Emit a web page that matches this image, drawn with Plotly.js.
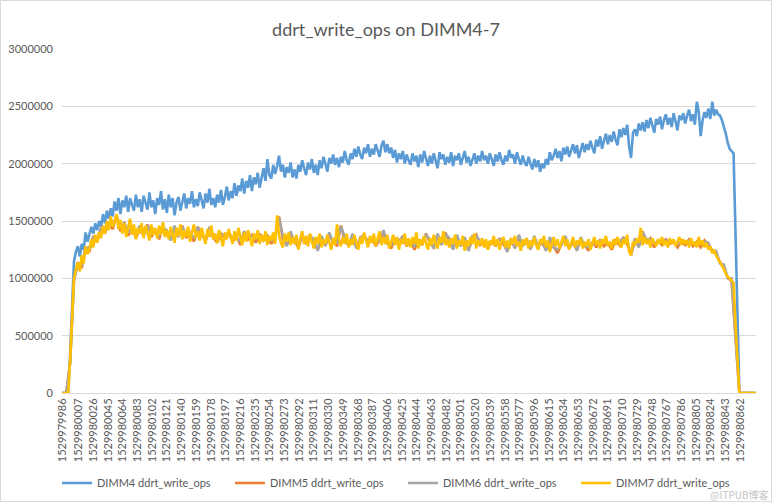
<!DOCTYPE html>
<html>
<head>
<meta charset="utf-8">
<script src="https://cdn.plot.ly/plotly-3.0.1.min.js"></script>
<style>html,body{margin:0;padding:0;background:#fff;}#chart{width:772px;height:502px;}</style>
</head>
<body>
<div id="chart"></div>
<script>
// time base (first timestamp); sample offsets in seconds from it
var BASE = 1529979986;

// fine sampling (2.5 s) used for DIMM4 and DIMM7
var offsetsFine = [0,2.5,5,7.5,10,12.5,15,17.5,20,22.5,
25,27.5,30,32.5,35,37.5,40,42.5,45,47.5,
50,52.5,55,57.5,60,62.5,65,67.5,70,72.5,
75,77.5,80,82.5,85,87.5,90,92.5,95,97.5,
100,102.5,105,107.5,110,112.5,115,117.5,120,122.5,
125,127.5,130,132.5,135,137.5,140,142.5,145,147.5,
150,152.5,155,157.5,160,162.5,165,167.5,170,172.5,
175,177.5,180,182.5,185,187.5,190,192.5,195,197.5,
200,202.5,205,207.5,210,212.5,215,217.5,220,222.5,
225,227.5,230,232.5,235,237.5,240,242.5,245,247.5,
250,252.5,255,257.5,260,262.5,265,267.5,270,272.5,
275,277.5,280,282.5,285,287.5,290,292.5,295,297.5,
300,302.5,305,307.5,310,312.5,315,317.5,320,322.5,
325,327.5,330,332.5,335,337.5,340,342.5,345,347.5,
350,352.5,355,357.5,360,362.5,365,367.5,370,372.5,
375,377.5,380,382.5,385,387.5,390,392.5,395,397.5,
400,402.5,405,407.5,410,412.5,415,417.5,420,422.5,
425,427.5,430,432.5,435,437.5,440,442.5,445,447.5,
450,452.5,455,457.5,460,462.5,465,467.5,470,472.5,
475,477.5,480,482.5,485,487.5,490,492.5,495,497.5,
500,502.5,505,507.5,510,512.5,515,517.5,520,522.5,
525,527.5,530,532.5,535,537.5,540,542.5,545,547.5,
550,552.5,555,557.5,560,562.5,565,567.5,570,572.5,
575,577.5,580,582.5,585,587.5,590,592.5,595,597.5,
600,602.5,605,607.5,610,612.5,615,617.5,620,622.5,
625,627.5,630,632.5,635,637.5,640,642.5,645,647.5,
650,652.5,655,657.5,660,662.5,665,667.5,670,672.5,
675,677.5,680,682.5,685,687.5,690,692.5,695,697.5,
700,702.5,705,707.5,710,712.5,715,717.5,720,722.5,
725,727.5,730,732.5,735,737.5,740,742.5,745,747.5,
750,752.5,755,757.5,760,762.5,765,767.5,770,772.5,
775,777.5,780,782.5,785,787.5,790,792.5,795,797.5,
800,802.5,805,807.5,810,812.5,815,817.5,820,822.5,
825,827.5,830,832.5,835,837.5,840,842.5,845,847.5,
850,852.5,855,857.5,860,862.5,865,867.5,870,872.5,
875,877.5,880,882.5,885,887.5,890,892.5,895,897.5];

// coarse sampling (5 s) used for DIMM5 and DIMM6
var offsetsCoarse = [0,5,10,15,20,25,30,35,40,45,50,55,60,65,70,75,80,85,90,95,
100,105,110,115,120,125,130,135,140,145,150,155,160,165,170,175,180,185,190,195,
200,205,210,215,220,225,230,235,240,245,250,255,260,265,270,275,280,285,290,295,
300,305,310,315,320,325,330,335,340,345,350,355,360,365,370,375,380,385,390,395,
400,405,410,415,420,425,430,435,440,445,450,455,460,465,470,475,480,485,490,495,
500,505,510,515,520,525,530,535,540,545,550,555,560,565,570,575,580,585,590,595,
600,605,610,615,620,625,630,635,640,645,650,655,660,665,670,675,680,685,690,695,
700,705,710,715,720,725,730,735,740,745,750,755,760,765,770,775,780,785,790,795,
800,805,810,815,820,825,830,835,840,845,850,855,860,865,870,875,880,885,890,895];

var tickLabels = ["1529979986","1529980007","1529980026","1529980045","1529980064","1529980083",
"1529980102","1529980121","1529980140","1529980159","1529980178","1529980197","1529980216",
"1529980235","1529980254","1529980273","1529980292","1529980311","1529980330","1529980349",
"1529980368","1529980387","1529980406","1529980425","1529980444","1529980463","1529980482",
"1529980501","1529980520","1529980539","1529980558","1529980577","1529980596","1529980615",
"1529980634","1529980653","1529980672","1529980691","1529980710","1529980729","1529980748",
"1529980767","1529980786","1529980805","1529980824","1529980843","1529980862"];

var seriesNames = ["DIMM4 ddrt_write_ops","DIMM5 ddrt_write_ops","DIMM6 ddrt_write_ops","DIMM7 ddrt_write_ops"];

var dimm4 = [0,0,0,0,330000,800000,1150000,1230000,1280000,1190000,
1300000,1250000,1400000,1320000,1380000,1450000,1390000,1480000,1420000,1500000,
1450000,1560000,1480000,1590000,1520000,1610000,1540000,1670000,1590000,1700000,
1560000,1680000,1620000,1720000,1580000,1700000,1640000,1590000,1730000,1620000,
1690000,1580000,1720000,1650000,1600000,1750000,1620000,1680000,1560000,1700000,
1640000,1760000,1600000,1690000,1570000,1730000,1620000,1700000,1550000,1660000,
1710000,1590000,1680000,1740000,1610000,1700000,1650000,1760000,1620000,1690000,
1630000,1750000,1680000,1610000,1740000,1660000,1780000,1640000,1700000,1620000,
1730000,1660000,1770000,1640000,1710000,1800000,1680000,1760000,1700000,1830000,
1720000,1810000,1760000,1870000,1740000,1850000,1790000,1900000,1760000,1880000,
1820000,1920000,1790000,1880000,1960000,1850000,2040000,1900000,1870000,1990000,
1910000,1980000,2070000,1930000,1990000,1880000,1970000,1920000,2010000,1880000,
1950000,1870000,1990000,1930000,2030000,1960000,1900000,2010000,1950000,2040000,
1920000,1990000,1900000,2030000,1960000,2060000,1980000,1930000,2050000,2000000,
2080000,1990000,2050000,1970000,2060000,2010000,2110000,2030000,1990000,2090000,
2040000,2130000,2060000,2150000,2080000,2040000,2140000,2090000,2170000,2060000,
2130000,2080000,2170000,2110000,2060000,2160000,2200000,2100000,2170000,2090000,
2140000,2050000,2120000,2010000,2090000,2040000,2110000,2000000,2080000,2030000,
1990000,2090000,2020000,2070000,1970000,2080000,2010000,2110000,2040000,1980000,
2070000,2000000,2090000,2030000,1960000,2100000,2040000,2080000,1990000,2060000,
2010000,2100000,1980000,2070000,2030000,2090000,1990000,2050000,2110000,2010000,
2060000,1980000,2040000,2090000,2000000,2070000,2020000,2110000,2030000,2070000,
2000000,2090000,2040000,1980000,2080000,2020000,2100000,2030000,1990000,2070000,
2020000,2120000,2050000,2080000,2000000,2100000,2040000,1990000,2070000,2010000,
1980000,2060000,2000000,1950000,2040000,1970000,2030000,1930000,2000000,1960000,
2040000,1990000,2100000,2030000,2070000,2130000,2050000,2110000,2020000,2140000,
2080000,2150000,2060000,2120000,2170000,2090000,2160000,2050000,2110000,2180000,
2100000,2170000,2120000,2200000,2140000,2090000,2210000,2150000,2240000,2130000,
2200000,2260000,2170000,2250000,2190000,2280000,2210000,2160000,2300000,2230000,
2310000,2250000,2340000,2150000,2050000,2270000,2300000,2240000,2350000,2290000,
2360000,2280000,2380000,2310000,2400000,2330000,2270000,2390000,2340000,2410000,
2300000,2380000,2430000,2340000,2400000,2320000,2440000,2370000,2290000,2420000,
2380000,2440000,2350000,2420000,2470000,2370000,2430000,2340000,2540000,2450000,
2240000,2380000,2450000,2400000,2480000,2390000,2540000,2420000,2470000,2430000,
2420000,2380000,2330000,2260000,2180000,2130000,2110000,2090000,1400000,700000,
0,0,0,0,0,0,0,0,0,0];

var dimm5 = [0,0,270000,990000,1140000,1090000,1270000,1240000,1370000,1320000,
1440000,1390000,1490000,1430000,1550000,1410000,1490000,1370000,1460000,1350000,
1430000,1380000,1470000,1360000,1420000,1340000,1450000,1390000,1340000,1430000,
1370000,1460000,1350000,1410000,1320000,1450000,1380000,1330000,1420000,1360000,
1310000,1390000,1350000,1400000,1320000,1370000,1290000,1410000,1340000,1380000,
1310000,1390000,1330000,1370000,1300000,1360000,1540000,1340000,1290000,1380000,
1320000,1270000,1360000,1300000,1380000,1310000,1250000,1340000,1290000,1370000,
1320000,1280000,1460000,1330000,1290000,1360000,1270000,1330000,1380000,1300000,
1350000,1280000,1340000,1390000,1310000,1260000,1350000,1300000,1370000,1280000,
1330000,1250000,1340000,1290000,1390000,1310000,1270000,1360000,1300000,1400000,
1320000,1260000,1350000,1290000,1330000,1250000,1340000,1380000,1290000,1320000,
1260000,1330000,1280000,1350000,1300000,1240000,1320000,1270000,1350000,1290000,
1320000,1260000,1340000,1280000,1310000,1250000,1330000,1280000,1220000,1300000,
1340000,1270000,1310000,1250000,1330000,1290000,1240000,1320000,1270000,1340000,
1280000,1310000,1250000,1330000,1290000,1360000,1300000,1210000,1320000,1280000,
1410000,1310000,1350000,1270000,1330000,1290000,1340000,1300000,1320000,1270000,
1330000,1290000,1340000,1280000,1320000,1270000,1330000,1280000,1240000,1210000,
1140000,1090000,1010000,970000,490000,0,0,0,0,0];

var dimm6 = [0,0,260000,980000,1130000,1120000,1260000,1270000,1360000,1350000,
1430000,1420000,1480000,1460000,1540000,1440000,1480000,1400000,1450000,1380000,
1460000,1370000,1460000,1390000,1410000,1370000,1440000,1420000,1330000,1460000,
1360000,1450000,1380000,1400000,1350000,1440000,1410000,1320000,1450000,1350000,
1340000,1380000,1380000,1390000,1350000,1360000,1320000,1400000,1370000,1370000,
1340000,1380000,1360000,1360000,1330000,1350000,1530000,1370000,1280000,1410000,
1310000,1300000,1350000,1330000,1370000,1340000,1240000,1370000,1280000,1400000,
1310000,1310000,1450000,1360000,1280000,1390000,1260000,1360000,1370000,1330000,
1340000,1310000,1330000,1420000,1300000,1290000,1340000,1330000,1360000,1310000,
1320000,1280000,1330000,1320000,1380000,1340000,1260000,1390000,1290000,1390000,
1350000,1250000,1380000,1280000,1360000,1240000,1370000,1370000,1320000,1310000,
1290000,1320000,1310000,1340000,1330000,1230000,1350000,1260000,1380000,1280000,
1350000,1250000,1370000,1270000,1340000,1240000,1360000,1270000,1250000,1290000,
1370000,1260000,1340000,1240000,1360000,1280000,1270000,1310000,1300000,1330000,
1310000,1300000,1280000,1320000,1320000,1350000,1330000,1200000,1350000,1270000,
1400000,1340000,1340000,1300000,1320000,1320000,1330000,1330000,1310000,1300000,
1320000,1320000,1330000,1310000,1310000,1300000,1320000,1310000,1230000,1240000,
1130000,1120000,1000000,1000000,480000,0,0,0,0,0];

var dimm7 = [0,0,0,0,280000,600000,1000000,1080000,1140000,1060000,
1200000,1130000,1280000,1210000,1260000,1340000,1270000,1380000,1310000,1400000,
1350000,1460000,1390000,1500000,1420000,1540000,1450000,1490000,1560000,1430000,
1510000,1390000,1480000,1360000,1450000,1520000,1380000,1470000,1340000,1440000,
1390000,1480000,1350000,1460000,1400000,1330000,1470000,1380000,1440000,1350000,
1460000,1380000,1490000,1360000,1420000,1340000,1450000,1390000,1310000,1440000,
1370000,1470000,1340000,1420000,1360000,1450000,1320000,1400000,1470000,1350000,
1410000,1330000,1440000,1370000,1300000,1430000,1360000,1460000,1340000,1390000,
1310000,1420000,1350000,1280000,1400000,1340000,1430000,1360000,1300000,1410000,
1330000,1440000,1360000,1290000,1400000,1320000,1420000,1350000,1280000,1390000,
1340000,1420000,1300000,1380000,1320000,1410000,1290000,1370000,1330000,1400000,
1300000,1550000,1380000,1310000,1270000,1390000,1320000,1400000,1290000,1360000,
1300000,1380000,1250000,1350000,1410000,1300000,1370000,1280000,1390000,1320000,
1260000,1360000,1300000,1390000,1270000,1340000,1300000,1380000,1310000,1250000,
1350000,1290000,1470000,1340000,1280000,1360000,1300000,1390000,1270000,1340000,
1290000,1380000,1310000,1250000,1360000,1300000,1400000,1320000,1270000,1370000,
1310000,1390000,1280000,1350000,1410000,1290000,1360000,1300000,1380000,1260000,
1330000,1380000,1290000,1360000,1250000,1340000,1300000,1390000,1280000,1350000,
1270000,1360000,1300000,1400000,1260000,1340000,1290000,1370000,1310000,1250000,
1350000,1290000,1380000,1300000,1260000,1360000,1310000,1410000,1290000,1340000,
1270000,1350000,1300000,1380000,1260000,1330000,1290000,1370000,1240000,1330000,
1280000,1360000,1300000,1390000,1260000,1330000,1290000,1350000,1270000,1340000,
1250000,1330000,1290000,1370000,1280000,1340000,1250000,1320000,1360000,1270000,
1330000,1260000,1350000,1300000,1370000,1280000,1320000,1240000,1340000,1290000,
1350000,1260000,1330000,1280000,1360000,1290000,1250000,1340000,1300000,1370000,
1270000,1330000,1230000,1310000,1360000,1280000,1340000,1260000,1320000,1370000,
1280000,1340000,1250000,1310000,1360000,1270000,1330000,1290000,1350000,1260000,
1320000,1280000,1340000,1250000,1300000,1360000,1290000,1330000,1260000,1340000,
1300000,1370000,1280000,1320000,1260000,1340000,1290000,1360000,1310000,1270000,
1340000,1300000,1380000,1230000,1200000,1320000,1290000,1350000,1310000,1440000,
1290000,1360000,1300000,1340000,1270000,1350000,1310000,1280000,1340000,1300000,
1360000,1290000,1330000,1270000,1350000,1300000,1340000,1280000,1320000,1360000,
1290000,1340000,1300000,1330000,1270000,1350000,1290000,1320000,1270000,1360000,
1290000,1330000,1270000,1310000,1250000,1280000,1220000,1240000,1200000,1170000,
1140000,1120000,1080000,1040000,1010000,1000000,980000,960000,600000,250000,
0,0,0,0,0,0,0,0,0,0];

var colors = ["#5B9BD5","#ED7D31","#A5A5A5","#FFC000"];
var allSeries = [dimm4, dimm5, dimm6, dimm7];
var allX = [offsetsFine, offsetsCoarse, offsetsCoarse, offsetsFine];

var traces = allSeries.map(function(vals, k){
  return {
    type: "scatter", mode: "lines",
    x: allX[k], y: vals, name: seriesNames[k],
    line: {color: colors[k], width: 2.6}
  };
});

var tickvals = tickLabels.map(function(s){ return Number(s) - BASE; });

var W = 772, H = 502, L = 62, R = 16, T = 49, B = 109;
var pw = W - L - R, ph = H - T - B;

var layout = {
  width: W, height: H,
  margin: {l: L, r: R, t: T, b: B},
  paper_bgcolor: "#ffffff", plot_bgcolor: "#ffffff",
  font: {family: "Lato, 'Open Sans', sans-serif", size: 11, color: "#595959"},
  title: {
    text: "ddrt_write_ops on DIMM4-7",
    font: {family: "Lato, sans-serif", size: 18, color: "#595959"},
    xref: "container", x: 0.5, xanchor: "center",
    yref: "container", y: 1 - 30/502, yanchor: "middle"
  },
  xaxis: {
    type: "linear", range: [-0.5, 896.5],
    tickmode: "array", tickvals: tickvals, ticktext: tickLabels,
    tickangle: -90, showgrid: false, zeroline: false,
    showline: true, linecolor: "#d9d9d9", linewidth: 1,
    ticks: "", tickfont: {family: "Lato, sans-serif", size: 11, color: "#595959"}
  },
  yaxis: {
    range: [0, 3000000], dtick: 500000, tick0: 0, tickformat: "d",
    showgrid: true, gridcolor: "#d9d9d9", gridwidth: 1,
    zeroline: false, showline: false, ticks: "",
    ticklabelstandoff: 8,
    tickfont: {family: "Lato, sans-serif", size: 11, color: "#595959"}
  },
  showlegend: true,
  legend: {
    orientation: "h",
    xref: "container", x: 57/772, xanchor: "left",
    yref: "container", y: 1 - 483/502, yanchor: "middle",
    entrywidth: 128, entrywidthmode: "pixels", itemwidth: 30,
    font: {family: "Lato, sans-serif", size: 11, color: "#595959"},
    bgcolor: "rgba(0,0,0,0)", traceorder: "normal"
  },
  annotations: [{
    text: "@ITPUB博客", xref: "paper", yref: "paper",
    x: (771 - L)/pw, y: (H - B - 494)/ph, xanchor: "right", yanchor: "middle",
    showarrow: false,
    font: {family: "'Noto Sans CJK SC', sans-serif", size: 10, color: "#c4c4c4"}
  }],
  shapes: [{
    type: "rect", xref: "paper", yref: "paper",
    x0: (0.5 - L)/pw, x1: (W - 0.5 - L)/pw,
    y0: (H - B - (H - 0.5))/ph, y1: (H - B - 0.5)/ph,
    line: {color: "#d9d9d9", width: 1}, fillcolor: "rgba(0,0,0,0)", layer: "below"
  }]
};

Plotly.newPlot("chart", traces, layout, {displayModeBar: false, staticPlot: true});
</script>
</body>
</html>
